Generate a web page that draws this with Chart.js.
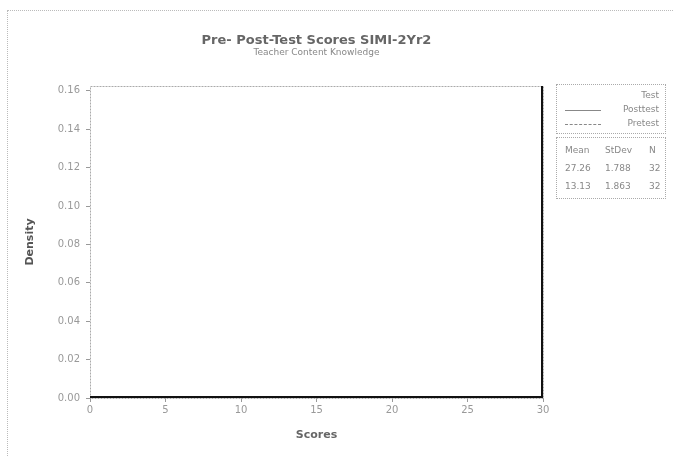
<!DOCTYPE html>
<html>
<head>
<meta charset="utf-8">
<script src="https://cdn.jsdelivr.net/npm/chart.js@4.4.1/dist/chart.umd.min.js"></script>
<style>
    body { margin: 0; background: #fff; font-family: "DejaVu Sans", sans-serif; }
    #wrap { position: relative; width: 673px; height: 456px; overflow: hidden; }
    #frame { position: absolute; left: 7px; top: 10px; width: 700px; height: 500px; border: 1px dotted #bbb; }
    .title { position: absolute; left: 90px; width: 453px; text-align: center; color: #666; }
    #t1 { top: 32px; font-size: 13px; font-weight: bold; }
    #t2 { top: 47px; font-size: 9px; color: #888; }
    .box { position: absolute; left: 556px; width: 108px; border: 1px dotted #aaa; font-size: 9px; color: #888; }
    #leg { top: 84px; height: 48px; }
    #stats { top: 137px; height: 60px; }
    .row { position: absolute; left: 0; right: 6px; text-align: right; }
    .sample { position: absolute; left: 8px; width: 36px; top: 6px; border-top: 1px solid #888; }
    .col { position: absolute; }
</style>
</head>
<body>
<div id="wrap">
    <div id="frame"></div>
    <canvas id="densityChart" width="673" height="456"></canvas>
    <div class="title" id="t1">Pre- Post-Test Scores SIMI-2Yr2</div>
    <div class="title" id="t2">Teacher Content Knowledge</div>
    <div class="box" id="leg"></div>
    <div class="box" id="stats"></div>
</div>
<script>
// Data
const scores = [0, 5, 10, 15, 20, 25, 30, 30];
const posttestDensity = [0, 0, 0, 0, 0, 0, 0, 0.2];
const pretestDensity = [0, 0, 0, 0, 0, 0, 0, 0.2];
const xTicks = [0, 5, 10, 15, 20, 25, 30];
const yTicks = [0, 0.02, 0.04, 0.06, 0.08, 0.10, 0.12, 0.14, 0.16];

const testNames = ['Posttest', 'Pretest'];
const statHeader = ['Mean', 'StDev', 'N'];
const statRows = [
    ['27.26', '1.788', '32'],
    ['13.13', '1.863', '32']
];

// Legend box (HTML)
const leg = document.getElementById('leg');
leg.innerHTML = `<div class="row" style="top:5px">Test</div>`;
testNames.forEach((name, i) => {
    const dash = i === 0 ? 'solid' : 'dashed';
    leg.innerHTML += `
        <div class="row" style="top:${19 + i * 14}px">
            <div class="sample" style="border-top-style:${dash}"></div>${name}
        </div>`;
});

const stats = document.getElementById('stats');
const colX = [8, 48, 92];
[statHeader, ...statRows].forEach((row, r) => {
    row.forEach((cell, c) => {
        stats.innerHTML += `<div class="col" style="left:${colX[c]}px;top:${7 + r * 18}px">${cell}</div>`;
    });
});

// Plot box outline
const boxPlugin = {
    id: 'plotBox',
    beforeDatasetsDraw(chart) {
        const a = chart.chartArea;
        const ctx = chart.ctx;
        ctx.save();
        ctx.strokeStyle = '#aaa';
        ctx.lineWidth = 1;
        ctx.setLineDash([2, 1]);
        ctx.strokeRect(a.left + 0.5, a.top + 0.5, a.right - a.left, a.bottom - a.top);
        ctx.restore();
    }
};

const ctx = document.getElementById('densityChart').getContext('2d');
new Chart(ctx, {
    type: 'line',
    data: {
        datasets: [
            {
                label: testNames[0],
                data: scores.map((s, i) => ({ x: s, y: posttestDensity[i] })),
                borderColor: '#111',
                borderWidth: 4,
                pointRadius: 0,
                tension: 0
            },
            {
                label: testNames[1],
                data: scores.map((s, i) => ({ x: s, y: pretestDensity[i] })),
                borderColor: '#222',
                borderWidth: 3,
                borderDash: [6, 3],
                pointRadius: 0,
                tension: 0
            }
        ]
    },
    options: {
        responsive: false,
        animation: false,
        layout: { padding: { left: 20, right: 130, top: 86, bottom: 10 } },
        plugins: {
            legend: { display: false },
            tooltip: { enabled: false }
        },
        scales: {
            x: {
                type: 'linear',
                min: 0,
                max: 30,
                afterFit: (s) => { s.height = 48; },
                afterBuildTicks: (s) => { s.ticks = xTicks.map(v => ({ value: v })); },
                grid: { drawOnChartArea: false, tickLength: 4, color: '#999' },
                border: { display: false },
                ticks: { color: '#999', font: { family: 'DejaVu Sans', size: 10 }, padding: 2 },
                title: { display: true, text: 'Scores', color: '#666', font: { family: 'DejaVu Sans', size: 11, weight: 'bold' }, padding: { top: 4 } }
            },
            y: {
                min: 0,
                max: 0.1625,
                afterFit: (s) => { s.width = 70; },
                afterBuildTicks: (s) => { s.ticks = yTicks.map(v => ({ value: v })); },
                grid: { drawOnChartArea: false, tickLength: 4, color: '#999' },
                border: { display: false },
                ticks: {
                    color: '#999',
                    font: { family: 'DejaVu Sans', size: 10 },
                    padding: 6,
                    callback: (v) => v.toFixed(2)
                },
                title: { display: true, text: 'Density', color: '#555', font: { family: 'DejaVu Sans', size: 11, weight: 'bold' }, padding: { bottom: 0 } }
            }
        }
    },
    plugins: [boxPlugin]
});
</script>
</body>
</html>
